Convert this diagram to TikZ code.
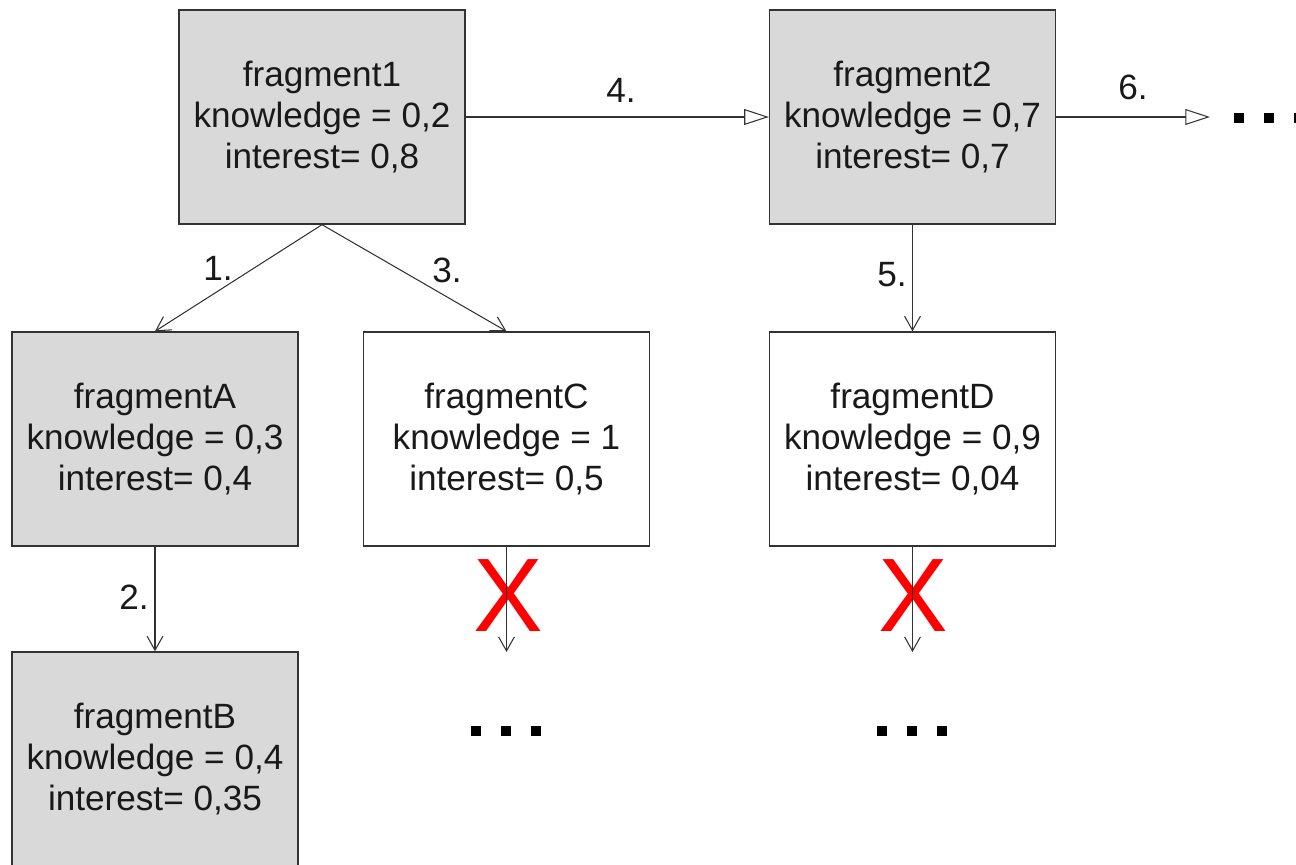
\documentclass[tikz,border=0pt]{standalone}
\usepackage{fontspec}
\setmainfont{Liberation Sans}
\usetikzlibrary{arrows.meta}

\begin{document}
\begin{tikzpicture}[x=0.02cm,y=-0.02cm]
          \tikzstyle{frag}=[draw=black!80, line width=0.8pt, minimum width=5.72cm, minimum height=4.28cm, align=center, font=\fontsize{20}{23.3}\selectfont, text=black!90]
          \tikzstyle{seen}=[frag, fill=black!15]
          \tikzstyle{num}=[font=\fontsize{20}{23.3}\selectfont, text=black!90]
          \tikzstyle{hop}=[draw=black!80, line width=0.6pt, -{Straight Barb[length=8pt, width=9pt]}]
          \tikzstyle{jump}=[draw=black!80, line width=0.6pt, -{Triangle[open, length=14pt, width=9pt]}]
          \tikzstyle{cross}=[text=red, inner sep=0pt, font=\fontsize{59.5}{60}\selectfont]
          \useasboundingbox (0,0) rectangle (1296,865);
          % fragments
          \node[seen] (f1) at (322,117) {fragment1\\knowledge = 0,2\\interest= 0,8};
          \node[seen] (f2) at (912.5,117) {fragment2\\knowledge = 0,7\\interest= 0,7};
          \node[seen] (fA) at (155,439) {fragmentA\\knowledge = 0,3\\interest= 0,4};
          \node[frag] (fC) at (506.5,439) {fragmentC\\knowledge = 1\\interest= 0,5};
          \node[frag] (fD) at (912.5,439) {fragmentD\\knowledge = 0,9\\interest= 0,04};
          \node[seen] (fB) at (155,759) {fragmentB\\knowledge = 0,4\\interest= 0,35};
          \coordinate (endC) at (506.5,652);
          \coordinate (endD) at (912.5,652);
          \coordinate (end6) at (1210,117);
          % rejected paths
          \node[cross] (xC) at (508,596) {X};
          \node[cross] (xD) at (913,596) {X};
          % steps
          \draw[hop] (f1.south) -- (fA.north);
          \draw[hop] (f1.south) -- (fC.north);
          \draw[hop] (fA.south) -- (fB.north);
          \draw[hop] (f2.south) -- (fD.north);
          \draw[hop] (fC.south) -- (endC);
          \draw[hop] (fD.south) -- (endD);
          \draw[jump] (f1.east) -- (f2.west);
          \draw[jump] (f2.east) -- (end6);
          \node[num] (n1) at (218,268) {1.};
          \node[num] (n2) at (134,597) {2.};
          \node[num] (n3) at (447,270) {3.};
          \node[num] (n4) at (621,90) {4.};
          \node[num] (n5) at (892,275) {5.};
          \node[num] (n6) at (1133,87) {6.};
          % more to come
          \foreach \x in {471,501,531,877,907,937} \fill (\x,726) rectangle ++(10,10);
          \foreach \x in {1234,1264,1294} \fill (\x,113) rectangle ++(10,10);
      \end{tikzpicture}
\end{document}
